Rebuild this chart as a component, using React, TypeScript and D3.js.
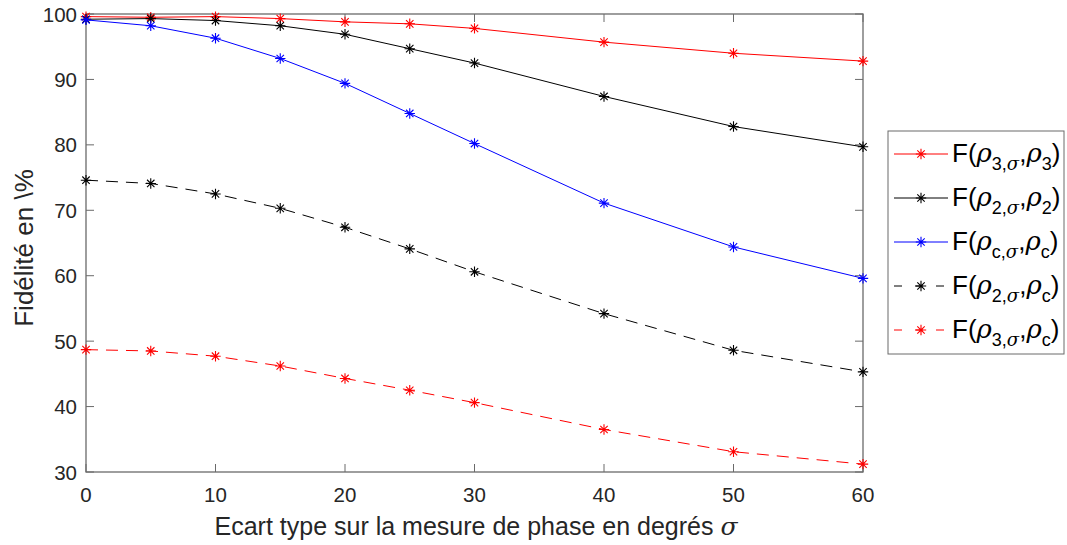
import React from "react";
import * as d3 from "d3";

const sigma = [0, 5, 10, 15, 20, 25, 30, 40, 50, 60];
const f33 = [99.6, 99.5, 99.6, 99.3, 98.8, 98.5, 97.8, 95.7, 94.0, 92.8];
const f22 = [99.2, 99.3, 99.0, 98.2, 96.9, 94.7, 92.5, 87.4, 82.8, 79.7];
const fcc = [99.1, 98.2, 96.3, 93.2, 89.4, 84.8, 80.2, 71.1, 64.4, 59.6];
const f2c = [74.6, 74.1, 72.5, 70.3, 67.4, 64.1, 60.6, 54.2, 48.6, 45.3];
const f3c = [48.7, 48.5, 47.7, 46.2, 44.3, 42.5, 40.6, 36.5, 33.1, 31.2];
const xTicks = [0, 10, 20, 30, 40, 50, 60];
const yTicks = [30, 40, 50, 60, 70, 80, 90, 100];

const seriesList = [
  { values: f33, color: "#ff0000", dashed: false, sub1: "3,", sub2: "3" },
  { values: f22, color: "#000000", dashed: false, sub1: "2,", sub2: "2" },
  { values: fcc, color: "#0000ff", dashed: false, sub1: "c,", sub2: "c" },
  { values: f2c, color: "#000000", dashed: true, sub1: "2,", sub2: "c" },
  { values: f3c, color: "#ff0000", dashed: true, sub1: "3,", sub2: "c" },
];

const W = 1067, H = 545;
const L = 86, R = 863, T = 14, B = 472;
const axisColor = "#6a6a6a";
const FONT = "'Liberation Sans', Arial, Helvetica, sans-serif";

function Star({ x, y, color }: { x: number; y: number; color: string }) {
  const a = 5.2, d = 3.7;
  const p = `M${x - a},${y}L${x + a},${y}M${x},${y - a}L${x},${y + a}M${x - d},${y - d}L${x + d},${y + d}M${x - d},${y + d}L${x + d},${y - d}`;
  return <path d={p} stroke={color} strokeWidth={1.1} fill="none" />;
}

export default function App() {
  const x = d3.scaleLinear().domain([0, 60]).range([L, R]);
  const y = d3.scaleLinear().domain([30, 100]).range([B, T]);
  const line = d3.line<number>().x((_, i) => x(sigma[i])).y((v) => y(v));

  const legX = 888, legY = 131, legW = 176, legH = 223;
  const rowY0 = 154, rowDy = 44;

  return (
    <svg width={W} height={H} style={{ position: "absolute", left: 0, top: 0, background: "#fff" }} fontFamily={FONT}>
      <rect x={0} y={0} width={W} height={H} fill="#fff" />
      {xTicks.map((t) => (
        <g key={"xt" + t}>
          <line x1={x(t)} x2={x(t)} y1={B} y2={B - 8} stroke={axisColor} />
          <line x1={x(t)} x2={x(t)} y1={T} y2={T + 8} stroke={axisColor} />
          <text x={x(t)} y={502} fontSize={20.5} textAnchor="middle" fill="#262626">{t}</text>
        </g>
      ))}
      {yTicks.map((t) => (
        <g key={"yt" + t}>
          <line x1={L} x2={L + 8} y1={y(t)} y2={y(t)} stroke={axisColor} />
          <line x1={R} x2={R - 8} y1={y(t)} y2={y(t)} stroke={axisColor} />
          <text x={77} y={y(t) + 7.5} fontSize={20.5} textAnchor="end" fill="#262626">{t}</text>
        </g>
      ))}
      <rect x={L} y={T} width={R - L} height={B - T} fill="none" stroke={axisColor} strokeWidth={1.3} />
      {seriesList.map((s, k) => (
        <g key={"s" + k}>
          <path d={line(s.values) || ""} fill="none" stroke={s.color} strokeWidth={1}
            strokeDasharray={s.dashed ? "12,8" : undefined} />
          {s.values.map((v, i) => <Star key={i} x={x(sigma[i])} y={y(v)} color={s.color} />)}
        </g>
      ))}
      <text x={476} y={535} fontSize={25} textAnchor="middle" fill="#262626">
        Ecart type sur la mesure de phase en degrés <tspan fontStyle="italic" fontFamily="'DejaVu Serif', serif">σ</tspan>
      </text>
      <text transform={`translate(33,248) rotate(-90)`} fontSize={26} textAnchor="middle" fill="#262626">
        Fidélité en \%
      </text>
      <rect x={legX} y={legY} width={legW} height={legH} fill="#fff" stroke={axisColor} strokeWidth={1} />
      {seriesList.map((s, k) => {
        const ry = rowY0 + k * rowDy;
        return (
          <g key={"l" + k}>
            <line x1={894} x2={948} y1={ry} y2={ry} stroke={s.color} strokeWidth={1}
              strokeDasharray={s.dashed ? "8,13" : undefined} />
            <Star x={921} y={ry} color={s.color} />
            <text x={952} y={ry + 8} fontSize={26} fill="#000">
              F(<tspan fontStyle="italic" fontFamily="'DejaVu Serif', serif">ρ</tspan>
              <tspan fontSize={18} dy={8}>{s.sub1}</tspan>
              <tspan fontSize={18} fontStyle="italic" fontFamily="'DejaVu Serif', serif">σ</tspan>
              <tspan dy={-8}>,</tspan>
              <tspan fontStyle="italic" fontFamily="'DejaVu Serif', serif">ρ</tspan>
              <tspan fontSize={18} dy={8}>{s.sub2}</tspan>
              <tspan dy={-8}>)</tspan>
            </text>
          </g>
        );
      })}
    </svg>
  );
}
